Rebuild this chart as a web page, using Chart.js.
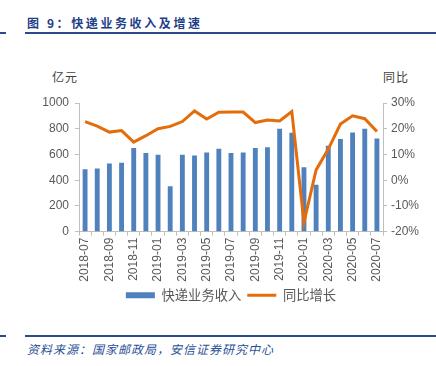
<!DOCTYPE html>
<html>
<head>
<meta charset="utf-8">
<script src="https://cdn.jsdelivr.net/npm/chart.js@4"></script>
<style>
  html, body { margin: 0; padding: 0; background: #fff; }
  body { width: 436px; height: 366px; position: relative; overflow: hidden; font-family: "Noto Sans CJK SC", sans-serif; }
  #wrap { position: absolute; left: 0; top: 0; width: 436px; height: 312px; }
  .rule { position: absolute; height: 2px; background: #2a4a8c; }
  #title { position: absolute; left: 27px; top: 14px; font-size: 12px; font-weight: bold; color: #1f3f88; letter-spacing: 2.6px; }
  #source { position: absolute; left: 27px; top: 340px; font-size: 12px; font-style: italic; color: #2a4f96; letter-spacing: 1px; }
  .unit { position: absolute; top: 68px; font-size: 12px; color: #404040; letter-spacing: 1px; }
</style>
</head>
<body>
<div id="title">图 9：快递业务收入及增速</div>
<div class="rule" style="left:0;top:32px;width:6px;"></div>
<div class="rule" style="left:25px;top:32px;width:411px;"></div>
<div class="unit" style="left:52px;">亿元</div>
<div class="unit" style="left:383px;">同比</div>
<div id="wrap"><canvas id="chart"></canvas></div>
<div class="rule" style="left:0;top:335px;width:6px;"></div>
<div class="rule" style="left:25px;top:335px;width:411px;"></div>
<div id="source">资料来源：国家邮政局，安信证券研究中心</div>

<script>
// Data
const months = [
  "2018-07", "2018-08", "2018-09", "2018-10", "2018-11", "2018-12",
  "2019-01", "2019-02", "2019-03", "2019-04", "2019-05", "2019-06",
  "2019-07", "2019-08", "2019-09", "2019-10", "2019-11", "2019-12",
  "2020-01", "2020-02", "2020-03", "2020-04", "2020-05", "2020-06", "2020-07"
];
const revenue = [486, 491, 530, 535, 650, 611, 597, 353, 597, 592, 615, 644,
                 611, 615, 650, 657, 800, 769, 501, 364, 667, 720, 771, 800, 724];
const growth = [22.8, 21.0, 18.7, 19.3, 14.8, 17.3, 20.0, 20.9, 22.8, 26.9, 23.8, 26.4,
                26.5, 26.5, 22.4, 23.4, 23.0, 26.7, -16.4, 4.0, 12.1, 21.8, 25.0, 23.9, 18.9];
const leftTicks = [0, 200, 400, 600, 800, 1000];
const rightTicks = [-20, -10, 0, 10, 20, 30];

const BLUE = "#4f81bd";
const ORANGE = "#e46c0a";
const AXIS = "#bfbfbf";
const TEXT = "#595959";
const tickFont = { family: "'Liberation Sans', Arial, sans-serif", size: 12 };

const ctx = document.getElementById("chart").getContext("2d");

new Chart(ctx, {
  type: "bar",
  data: {
    labels: months,
    datasets: [
      {
        label: "快递业务收入",
        data: revenue,
        backgroundColor: BLUE,
        borderWidth: 0,
        barPercentage: 0.4,
        categoryPercentage: 1,
        yAxisID: "y",
        pointStyle: "rect",
        order: 2
      },
      {
        type: "line",
        label: "同比增长",
        data: growth,
        borderColor: ORANGE,
        backgroundColor: ORANGE,
        borderWidth: 3,
        pointRadius: 0,
        tension: 0,
        yAxisID: "y1",
        pointStyle: "line",
        order: 1
      }
    ]
  },
  options: {
    responsive: true,
    maintainAspectRatio: false,
    animation: false,
    layout: { padding: { top: 103, left: 0, right: 0, bottom: 0 } },
    plugins: {
      tooltip: { enabled: false },
      legend: {
        position: "bottom",
        fullSize: false,
        labels: {
          usePointStyle: true,
          pointStyleWidth: 29,
          boxHeight: 6,
          padding: 6,
          color: TEXT,
          font: { family: "'Noto Sans CJK SC', sans-serif", size: 13.3 },
          sort: (a, b) => a.datasetIndex - b.datasetIndex
        }
      }
    },
    scales: {
      x: {
        grid: { drawOnChartArea: false, color: AXIS, tickLength: 4, offset: true },
        border: { color: AXIS },
        ticks: {
          autoSkip: false,
          minRotation: 90,
          maxRotation: 90,
          padding: 2,
          color: TEXT,
          font: tickFont,
          callback: (v, i) => (i % 2 === 0 ? months[i] : "")
        },
        afterFit: (s) => { s.height = 51; }
      },
      y: {
        position: "left",
        min: 0,
        max: 1000,
        afterBuildTicks: (s) => { s.ticks = leftTicks.map(v => ({ value: v })); },
        grid: { drawOnChartArea: false, color: AXIS, tickLength: 4 },
        border: { color: AXIS },
        ticks: { color: TEXT, font: tickFont, padding: 6, callback: (v) => String(v) },
        afterFit: (s) => { s.width = 79; }
      },
      y1: {
        position: "right",
        min: -20,
        max: 30,
        afterBuildTicks: (s) => { s.ticks = rightTicks.map(v => ({ value: v })); },
        grid: { drawOnChartArea: false, color: AXIS, tickLength: 4 },
        border: { color: AXIS },
        ticks: { color: TEXT, font: tickFont, padding: 4, callback: (v) => v + "%" },
        afterFit: (s) => { s.width = 53; }
      }
    }
  }
});
</script>
</body>
</html>
